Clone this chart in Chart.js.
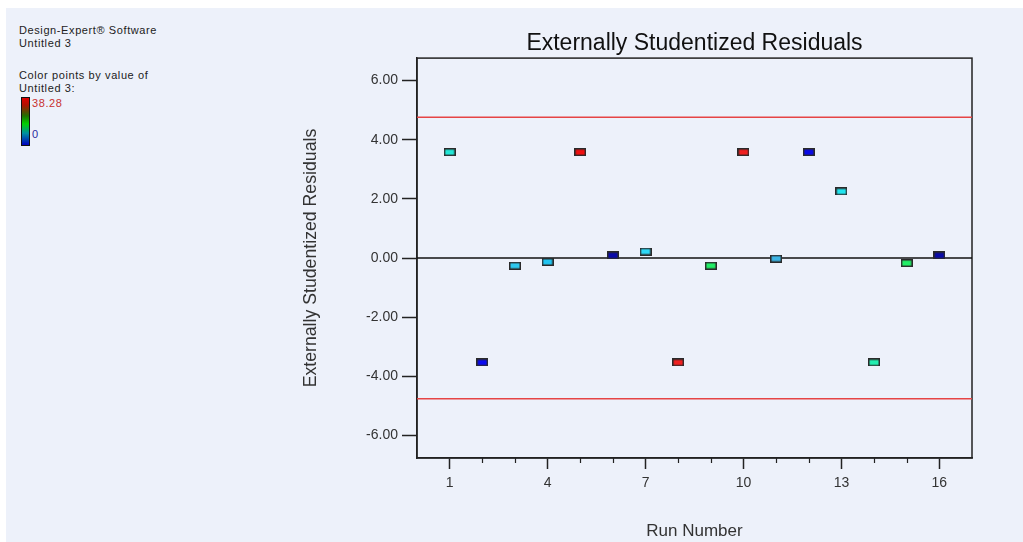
<!DOCTYPE html>
<html>
<head>
<meta charset="utf-8">
<script src="https://cdn.jsdelivr.net/npm/chart.js@4"></script>
<style>
  html, body { margin: 0; padding: 0; background: #ffffff; }
  #fondo { position: absolute; left: 6px; top: 8px; right: 0; bottom: 0; width: 1017px; height: 534px; background: #edf1fa; }
  #grafica { position: absolute; left: 0; top: 0; }
  .nota { position: absolute; font-family: 'Liberation Sans', Arial, sans-serif; font-size: 11px; line-height: 13px; letter-spacing: 0.6px; color: #222; white-space: nowrap; }
  #barra { position: absolute; left: 21px; top: 97px; width: 7px; height: 47px; border: 1px solid #111;
           background: linear-gradient(to bottom, #e00000, #b01000 15%, #207000 38%, #00d000 55%, #0090a0 75%, #0000c0); }
</style>
</head>
<body>
<div id="fondo"></div>
<div class="nota" style="left:19px; top:24px;">Design-Expert® Software</div>
<div class="nota" style="left:19px; top:37px;">Untitled 3</div>
<div class="nota" style="left:19px; top:69px;">Color points by value of</div>
<div class="nota" style="left:19px; top:82px;">Untitled 3:</div>
<div id="barra"></div>
<div class="nota" style="left:32px; top:97px; color:#c83030;">38.28</div>
<div class="nota" style="left:32px; top:128px; color:#2a2aa0;">0</div>
<canvas id="grafica" width="1023" height="542"></canvas>
<script>
// datos
const corridas = [1, 2, 3, 4, 5, 6, 7, 8, 9, 10, 11, 12, 13, 14, 15, 16];
const residuos = [3.58, -3.53, -0.26, -0.13, 3.58, 0.09, 0.22, -3.53, -0.26, 3.58, -0.02, 3.58, 2.25, -3.53, -0.17, 0.09];
const coloresPuntos = ['#22e6d6', '#0a0aef', '#2ec8ee', '#22c4f0', '#f01010', '#0a0aa8', '#2ed8f6', '#f02020',
                       '#22ee66', '#f02020', '#3cb4e4', '#0a0ae8', '#22e4ee', '#22eeb0', '#22ee66', '#0a0aa8'];
const limites = [4.76, -4.76];
const ejeXEtiquetas = [1, 4, 7, 10, 13, 16];
const ejeYEtiquetas = [-6, -4, -2, 0, 2, 4, 6];
const rangoX = [0, 17];
const rangoY = [-6.76, 6.76];

function marcador(color) {
  const c = document.createElement('canvas');
  c.width = 12; c.height = 8;
  const g = c.getContext('2d');
  g.fillStyle = color;
  g.fillRect(0, 0, 12, 8);
  g.strokeStyle = '#2a2a2a';
  g.lineWidth = 1.5;
  g.strokeRect(0.75, 0.75, 10.5, 6.5);
  return c;
}

function lineaH(valor) {
  return rangoX.map(x => ({ x: x, y: valor }));
}

const marcoYTicks = {
  id: 'marcoYTicks',
  beforeDatasetsDraw(chart) {
    const { ctx, chartArea: a } = chart;
    ctx.save();
    ctx.strokeStyle = '#222';
    ctx.lineWidth = 1.5;
    ctx.strokeRect(a.left, a.top, a.right - a.left, a.bottom - a.top);
    // ticks menores del eje x
    const x = chart.scales.x;
    ctx.lineWidth = 1.2;
    corridas.filter(r => !ejeXEtiquetas.includes(r)).forEach(r => {
      const px = Math.round(x.getPixelForValue(r)) + 0.5;
      ctx.beginPath();
      ctx.moveTo(px, a.bottom);
      ctx.lineTo(px, a.bottom + 5);
      ctx.stroke();
    });
    ctx.restore();
  }
};

new Chart(document.getElementById('grafica'), {
  type: 'scatter',
  data: {
    datasets: [
      {
        data: corridas.map((r, i) => ({ x: r, y: residuos[i] })),
        pointStyle: coloresPuntos.map(marcador),
        pointRadius: 6,
        order: 0
      },
      {
        type: 'line', data: lineaH(limites[0]), borderColor: '#e64444', borderWidth: 1.5,
        pointRadius: 0, order: 1
      },
      {
        type: 'line', data: lineaH(limites[1]), borderColor: '#e64444', borderWidth: 1.5,
        pointRadius: 0, order: 1
      },
      {
        type: 'line', data: lineaH(0), borderColor: '#111', borderWidth: 1.5,
        pointRadius: 0, order: 1
      }
    ]
  },
  options: {
    responsive: false,
    animation: false,
    events: [],
    layout: { padding: { left: 300, right: 51, top: 30, bottom: 0 } },
    plugins: {
      legend: { display: false },
      tooltip: { enabled: false },
      title: {
        display: true,
        text: 'Externally Studentized Residuals',
        fullSize: false,
        color: '#111',
        font: { family: 'Liberation Sans', size: 23, weight: 'normal' },
        padding: { top: 0, bottom: 0.5 }
      }
    },
    scales: {
      x: {
        type: 'linear',
        min: rangoX[0],
        max: rangoX[1],
        afterBuildTicks: s => { s.ticks = ejeXEtiquetas.map(v => ({ value: v })); },
        afterFit: s => { s.height = 84; },
        ticks: { color: '#333', font: { family: 'Liberation Sans', size: 14 }, padding: 6, maxRotation: 0, autoSkip: false },
        grid: { drawOnChartArea: false, tickLength: 11, tickColor: '#222', tickWidth: 1.5 },
        border: { color: '#222', width: 1.5 },
        title: { display: true, text: 'Run Number', color: '#333', padding: 0,
                 font: { family: 'Liberation Sans', size: 17 } }
      },
      y: {
        min: rangoY[0],
        max: rangoY[1],
        afterBuildTicks: s => { s.ticks = ejeYEtiquetas.map(v => ({ value: v })); },
        afterFit: s => { s.width = 117; },
        ticks: { color: '#333', font: { family: 'Liberation Sans', size: 14 }, padding: 4,
                 callback: v => v.toFixed(2) },
        grid: { drawOnChartArea: false, tickLength: 15, tickColor: '#222', tickWidth: 1.5 },
        border: { color: '#222', width: 1.5 },
        title: { display: true, text: 'Externally Studentized Residuals', color: '#333', padding: 0,
                 font: { family: 'Liberation Sans', size: 17.7 } }
      }
    }
  },
  plugins: [marcoYTicks]
});
</script>
</body>
</html>
